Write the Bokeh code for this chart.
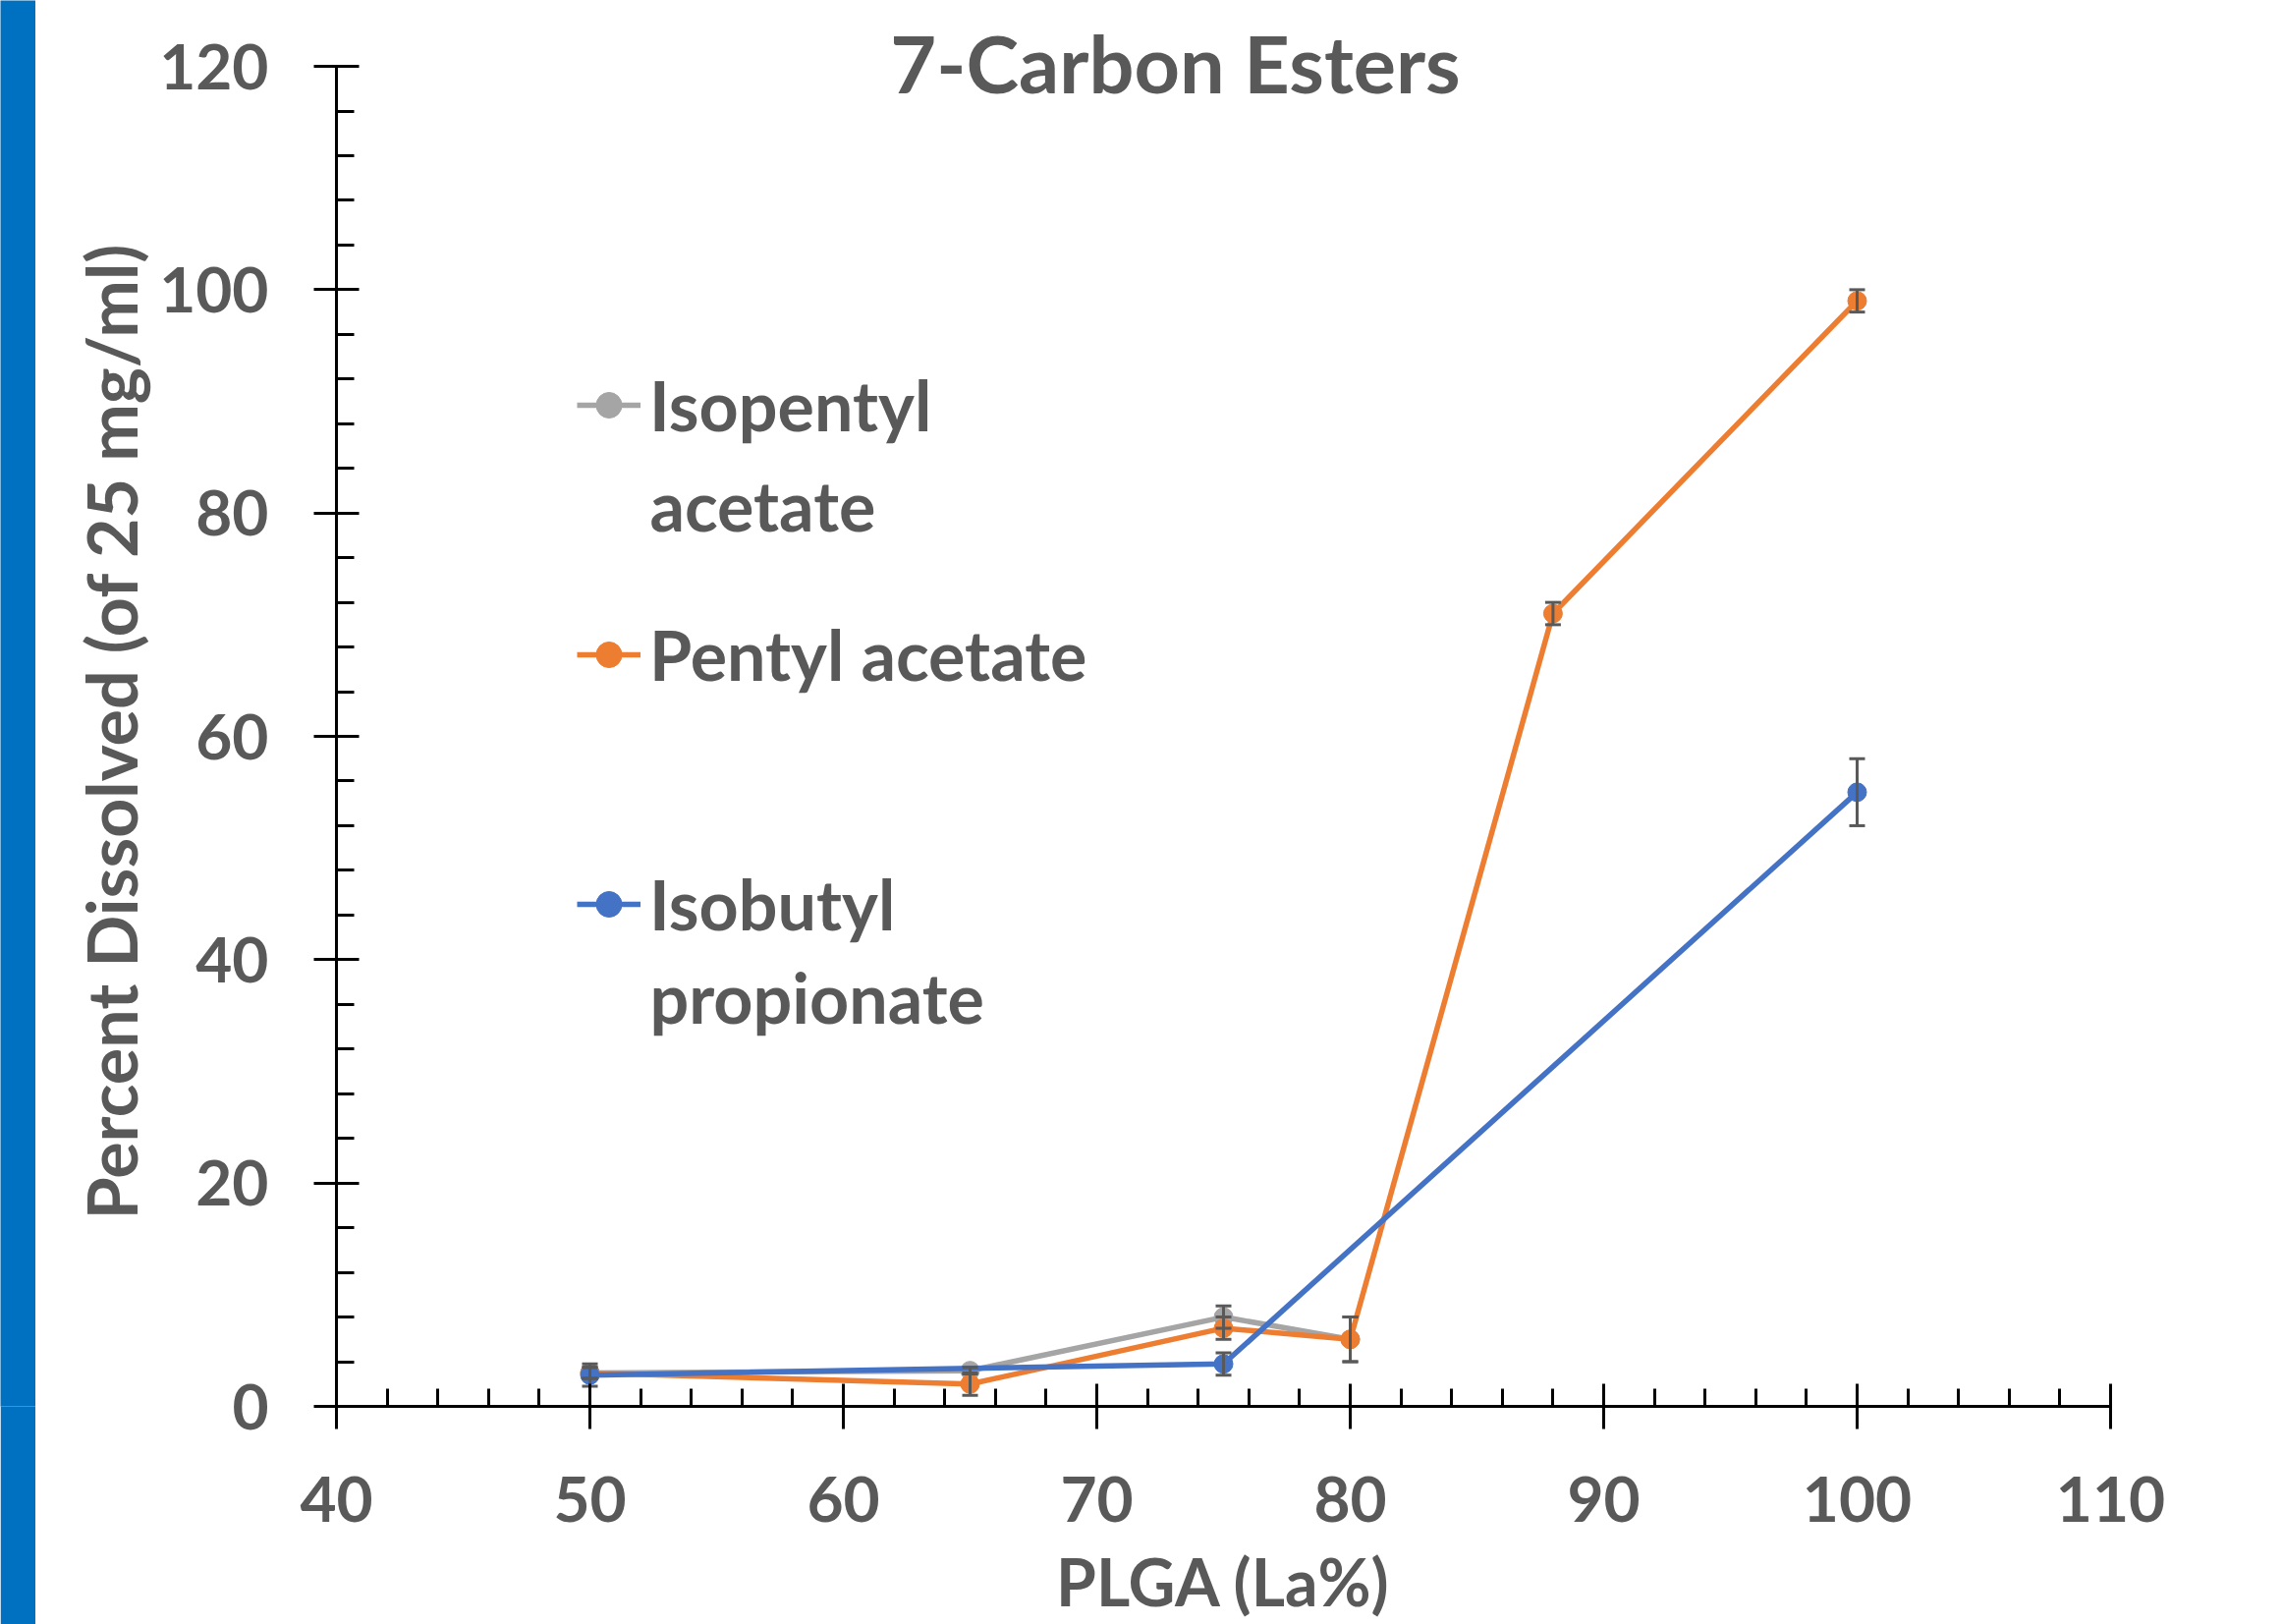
from bokeh.plotting import figure
from bokeh.models import (ColumnDataSource, Whisker, TeeHead, Legend, LegendItem,
                          Label, FixedTicker, Title)
from bokeh.layouts import row
from bokeh.embed import file_html
from bokeh.resources import INLINE

# ---- data ----
iso_pentyl_x = [50, 65, 75, 80]
iso_pentyl_y = [3.0, 3.2, 8.0, 6.0]
iso_pentyl_err = [0.5, 0.3, 1.0, 2.0]

pentyl_x = [50, 65, 75, 80, 88, 100]
pentyl_y = [3.0, 2.0, 7.0, 6.0, 71.0, 99.0]
pentyl_err = [0.5, 1.0, 1.0, 2.0, 1.0, 1.0]

isobutyl_x = [50, 75, 100]
isobutyl_y = [2.8, 3.8, 55.0]
isobutyl_err = [1.0, 1.0, 3.0]

series = [
    ("Isopentyl", "acetate", iso_pentyl_x, iso_pentyl_y, iso_pentyl_err, "#A5A5A5"),
    ("Pentyl acetate", None, pentyl_x, pentyl_y, pentyl_err, "#ED7D31"),
    ("Isobutyl", "propionate", isobutyl_x, isobutyl_y, isobutyl_err, "#4472C4"),
]

x_major = [40, 50, 60, 70, 80, 90, 100, 110]
y_major = [0, 20, 40, 60, 80, 100, 120]

FONT = "Lato"
TXT = "#595959"

p = figure(width=2287, height=1653, x_range=(40, 110), y_range=(0, 125.9),
           output_backend="svg", toolbar_location=None,
           min_border_left=306, min_border_right=175,
           min_border_top=0, min_border_bottom=222)
p.outline_line_color = None
p.grid.grid_line_color = None
p.background_fill_color = "white"
p.border_fill_color = "white"

for ax in (p.xaxis[0], p.yaxis[0]):
    ax.axis_line_color = "black"
    ax.axis_line_width = 3
    ax.major_tick_line_color = "black"
    ax.major_tick_line_width = 3
    ax.minor_tick_line_color = "black"
    ax.minor_tick_line_width = 3
    ax.major_tick_in = 23
    ax.major_tick_out = 23
    ax.minor_tick_in = 18
    ax.minor_tick_out = 0
    ax.major_label_text_font = FONT
    ax.major_label_text_font_style = "bold"
    ax.major_label_text_font_size = "64px"
    ax.major_label_text_color = TXT
    ax.axis_label_text_font = FONT
    ax.axis_label_text_font_style = "bold"
    ax.axis_label_text_color = TXT

p.xaxis.ticker = FixedTicker(ticks=x_major, minor_ticks=list(range(40, 111, 2)))
p.yaxis.ticker = FixedTicker(ticks=y_major, minor_ticks=list(range(0, 121, 4)))
p.yaxis.bounds = (0, 120)
p.xaxis.axis_label = "PLGA (La%)"
p.xaxis.axis_label_text_font_size = "66px"
p.xaxis.major_label_standoff = 48
p.xaxis.axis_label_standoff = 18
p.yaxis.major_label_standoff = 46

# y-axis title as a left-side Title, shifted to sit centred on the 0-120 span
p.add_layout(Title(text="Percent Dissolved (of 25 mg/ml)", align="left",
                   offset=190, standoff=10, text_font=FONT,
                   text_font_style="bold", text_font_size="70px",
                   text_color=TXT), "left")

items = []
for name, second, xs, ys, errs, col in series:
    src = ColumnDataSource(dict(x=xs, y=ys,
                                upper=[a + b for a, b in zip(ys, errs)],
                                lower=[a - b for a, b in zip(ys, errs)]))
    ln = p.line("x", "y", source=src, line_color=col, line_width=5.5)
    wh = Whisker(base="x", upper="upper", lower="lower", source=src,
                 line_color=TXT, line_width=3, level="glyph",
                 upper_head=TeeHead(size=16, line_color=TXT, line_width=3),
                 lower_head=TeeHead(size=16, line_color=TXT, line_width=3))
    p.add_layout(wh)
    sc = p.scatter("x", "y", source=src, size=19, marker="circle",
                   fill_color=col, line_color=col)
    items.append(LegendItem(label=name, renderers=[ln, sc]))

legend = Legend(items=items, location=(245, 469), orientation="vertical",
                glyph_width=65, glyph_height=80, label_height=80,
                label_standoff=9, spacing=170, padding=0, margin=0,
                border_line_color=None, background_fill_alpha=0,
                label_text_font=FONT, label_text_font_style="bold",
                label_text_font_size="70px", label_text_color=TXT,
                label_text_baseline="middle")
p.add_layout(legend)

second_lines = [("acetate", 80.7), ("propionate", 36.6)]
for txt, yy in second_lines:
    p.add_layout(Label(x=52.36, y=yy, text=txt, text_font=FONT,
                       text_font_style="bold", text_font_size="70px",
                       text_color=TXT, text_baseline="middle", text_align="left"))

p.add_layout(Label(x=73.1, y=120.4, text="7-Carbon Esters", text_font=FONT,
                   text_font_style="bold", text_font_size="81px",
                   text_color=TXT, text_baseline="middle", text_align="center"))

bar = figure(width=36, height=1653, output_backend="svg", toolbar_location=None,
             min_border=0, x_axis_type=None, y_axis_type=None)
bar.background_fill_color = "#0070C0"
bar.border_fill_color = "#0070C0"
bar.outline_line_color = None
bar.grid.grid_line_color = None

layout = row(bar, p)
open("out.html", "w").write(file_html(layout, INLINE))
